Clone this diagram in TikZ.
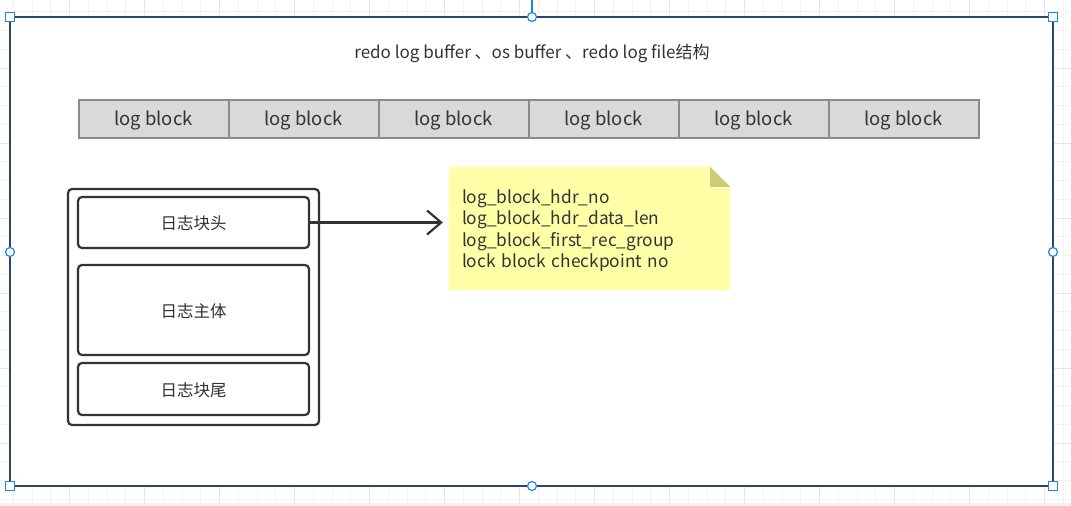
\documentclass[tikz,border=0pt]{standalone}
\usepackage{fontspec}
\setmainfont{Noto Sans CJK SC}
\usetikzlibrary{arrows.meta}
\definecolor{txt}{HTML}{333333}
\definecolor{cellfill}{HTML}{D9D9D9}
\definecolor{cellline}{HTML}{8A8A8A}
\definecolor{framec}{HTML}{2C4866}
\definecolor{handle}{HTML}{1E86E6}
\definecolor{notefill}{HTML}{FFFFA8}
\definecolor{foldc}{HTML}{CBCB78}
\definecolor{gridminor}{HTML}{F2F2F2}
\definecolor{gridmajor}{HTML}{E6E6E6}
\tikzset{
  cell/.style={draw=cellline, fill=cellfill, line width=2pt, minimum width=150pt, minimum height=38pt, inner sep=0pt, text=txt, font=\fontsize{18.4}{21}\selectfont},
  part/.style={draw=txt, rounded corners=4pt, line width=2.2pt, minimum width=231pt, inner sep=0pt, text=txt, font=\fontsize{16.5}{19}\selectfont},
  outerbox/.style={draw=txt, rounded corners=4pt, line width=2.2pt, minimum width=251pt, minimum height=236pt, inner sep=0pt},
  notebox/.style={minimum width=281pt, minimum height=123pt, text width=255pt, inner xsep=13pt, inner ysep=0pt, align=left, text=txt, font=\fontsize{17.3}{21.3}\selectfont},
  hsq/.style={draw=handle, fill=white, line width=1.2pt, minimum size=9pt, inner sep=0pt},
  hci/.style={draw=handle, fill=white, line width=1.2pt, circle, minimum size=9pt, inner sep=0pt},
  arr/.style={draw=txt, line width=2.2pt, -{Straight Barb[length=14pt,width=24pt]}},
}
\begin{document}
\begin{tikzpicture}[x=1pt,y=-1pt]
\useasboundingbox (0,0) rectangle (1071,506);
% background grid
\fill[white] (0,0) rectangle (1071,506);
\foreach \i in {-3,...,53} {
  \pgfmathsetmacro{\gx}{69.5+18.75*\i}
  \pgfmathtruncatemacro{\m}{mod(\i+400,4)}
  \ifnum\m=0 \draw[gridmajor,line width=1pt] (\gx,0) -- (\gx,503);
  \else \draw[gridminor,line width=1pt] (\gx,0) -- (\gx,503); \fi
}
\foreach \j in {-4,...,23} {
  \pgfmathsetmacro{\gy}{68+18.75*\j}
  \pgfmathtruncatemacro{\m}{mod(\j+400,4)}
  \ifnum\m=0 \draw[gridmajor,line width=1pt] (0,\gy) -- (1071,\gy);
  \else \draw[gridminor,line width=1pt] (0,\gy) -- (1071,\gy); \fi
}
\fill[gridminor] (0,503) rectangle (1071,506);
% frame
\draw[framec, fill=white, line width=2.8pt] (10,17) rectangle (1053,486);
\draw[handle, line width=1.2pt] (532,0) -- (532,13);
% title
\node[text=txt, font=\fontsize{17}{20}\selectfont] (title) at (532,53) {redo log buffer 、os buffer 、redo log file结构};
% log block row
\node[cell, text depth=0pt] (b1) at (153.5,119) {};
\node[cell] (b2) at (303.5,119) {};
\node[cell] (b3) at (453.5,119) {};
\node[cell] (b4) at (603.5,119) {};
\node[cell] (b5) at (753.5,119) {};
\node[cell] (b6) at (903.5,119) {};
\foreach \n in {b1,b2,b3,b4,b5,b6}
  \node[text=txt, font=\fontsize{18.4}{21}\selectfont, yshift=-1.5pt] (\n t) at (\n.center) {log block};
% block structure
\node[outerbox] (outer) at (193.5,307) {};
\node[part, minimum height=51pt] (head) at (193.5,222.5) {};
\node[part, minimum height=90pt] (body) at (193.5,310) {};
\node[part, minimum height=52pt] (tail) at (193.5,389) {};
\node[text=txt, font=\fontsize{16.5}{19}\selectfont, yshift=-1pt] (headt) at (head.center) {日志块头};
\node[text=txt, font=\fontsize{16.5}{19}\selectfont, yshift=-1pt] (bodyt) at (body.center) {日志主体};
\node[text=txt, font=\fontsize{16.5}{19}\selectfont, yshift=-1pt] (tailt) at (tail.center) {日志块尾};
% note
\node[notebox] (note) at (589.5,228.5) {};
\fill[notefill] (note.north west) -- ([xshift=-20pt]note.north east) -- ([yshift=-20pt]note.north east) -- (note.south east) -- (note.south west) -- cycle;
\fill[foldc] ([xshift=-20pt]note.north east) -- ([xshift=-20pt,yshift=-20pt]note.north east) -- ([yshift=-20pt]note.north east) -- cycle;
\node[notebox, yshift=-2pt] (notetext) at (note.center) {log\_block\_hdr\_no\\log\_block\_hdr\_data\_len\\log\_block\_first\_rec\_group\\lock block checkpoint no};
% arrow
\draw[arr, shorten >=6pt] (head.east) -- (head.east -| note.west);
% handles
\node[hsq] (h1) at (10,17) {};
\node[hci] (h2) at (532,17) {};
\node[hsq] (h3) at (1053,17) {};
\node[hci] (h4) at (10,252) {};
\node[hci] (h5) at (1053,252) {};
\node[hsq] (h6) at (10,486) {};
\node[hci] (h7) at (532,486) {};
\node[hsq] (h8) at (1053,486) {};
\end{tikzpicture}
\end{document}
